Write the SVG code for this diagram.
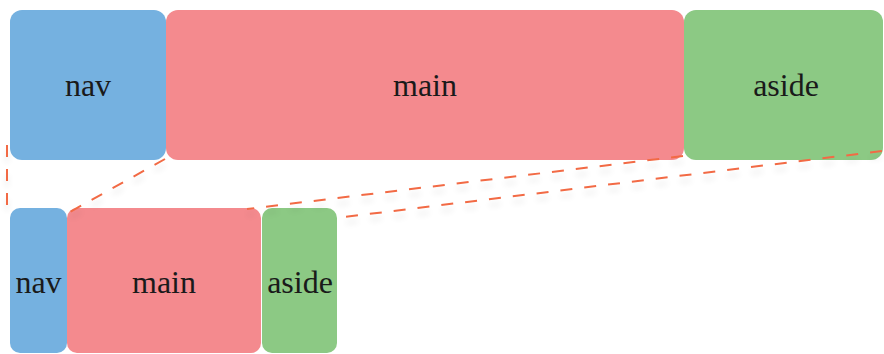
<svg xmlns="http://www.w3.org/2000/svg" width="884" height="354" viewBox="0 0 884 354">
<style>
.nav{fill:#75B1E0}
.main{fill:#F48A8E}
.aside{fill:#8CC984}
.lbl{font-family:'Liberation Serif','DejaVu Serif',serif;font-size:32px;fill:#1a1a1a;text-anchor:middle}
.dash{stroke:#F26A44;stroke-width:2;stroke-dasharray:12 12;fill:none;filter:url(#sh)}
</style>
<defs>
<filter id="sh" filterUnits="userSpaceOnUse" x="0" y="0" width="884" height="354">
<feGaussianBlur in="SourceAlpha" stdDeviation="3" result="b"/>
<feOffset in="b" dx="0" dy="6" result="o"/>
<feComponentTransfer in="o" result="s"><feFuncA type="linear" slope="0.12"/></feComponentTransfer>
<feMerge><feMergeNode in="s"/><feMergeNode in="SourceGraphic"/></feMerge>
</filter>
</defs>
<rect width="884" height="354" fill="#ffffff"/>
<g id="top-nav"><rect class="nav" x="10" y="10" width="156" height="150" rx="12"/><text class="lbl" x="88" y="96">nav</text></g>
<g id="top-main"><rect class="main" x="166" y="10" width="518" height="150" rx="12"/><text class="lbl" x="425" y="96">main</text></g>
<g id="top-aside"><rect class="aside" x="684" y="10" width="199" height="150" rx="12"/><text class="lbl" x="786" y="96">aside</text></g>
<g id="bottom-nav"><rect class="nav" x="10" y="208" width="57" height="145" rx="10"/><text class="lbl" x="38.5" y="293">nav</text></g>
<g id="bottom-main"><rect class="main" x="67" y="208" width="194" height="145" rx="10"/><text class="lbl" x="164" y="293">main</text></g>
<g id="bottom-aside"><rect class="aside" x="262" y="208" width="75" height="145" rx="10"/><text class="lbl" x="300" y="293">aside</text></g>
<g id="connectors">
<line class="dash" x1="7" y1="145" x2="7" y2="217"/>
<line class="dash" x1="165" y1="159" x2="68" y2="213"/>
<line class="dash" x1="683" y1="156" x2="247" y2="209"/>
<line class="dash" x1="882" y1="151" x2="336" y2="218"/>
</g>
</svg>
